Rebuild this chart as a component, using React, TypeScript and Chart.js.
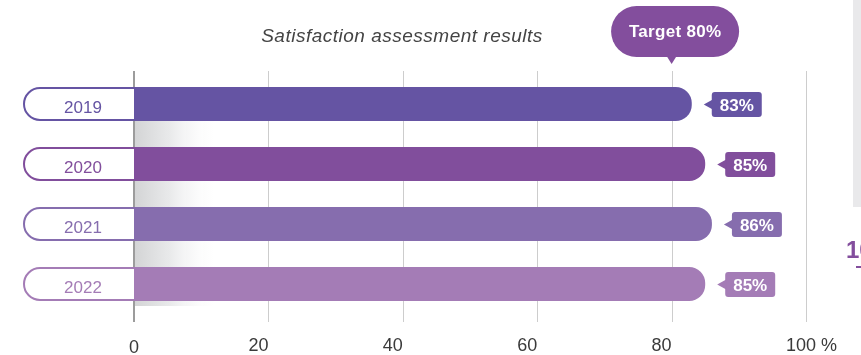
import React, { useEffect, useRef } from "react";
import { Chart, registerables } from "chart.js";

Chart.register(...registerables);

const YEARS = ["2019", "2020", "2021", "2022"];
const SATISFACTION = [83, 85, 86, 85];
const TARGET = 80;
const X_TICKS = [0, 20, 40, 60, 80, 100];
const X_TICK_LABELS = ["0", "20", "40", "60", "80", "100 %"];
const BAR_COLORS = ["#6554A3", "#814E9C", "#866DAE", "#A47CB6"];
const TARGET_COLOR = "#834E9D";
const TITLE = "Satisfaction assessment results";
const TARGET_TEXT = `Target ${TARGET}%`;
const FONT = '"Liberation Sans", Arial, Helvetica, sans-serif';

function roundRect(ctx: CanvasRenderingContext2D, x: number, y: number, w: number, h: number, r: number) {
  ctx.beginPath();
  ctx.moveTo(x + r, y);
  ctx.lineTo(x + w - r, y);
  ctx.arcTo(x + w, y, x + w, y + r, r);
  ctx.lineTo(x + w, y + h - r);
  ctx.arcTo(x + w, y + h, x + w - r, y + h, r);
  ctx.lineTo(x + r, y + h);
  ctx.arcTo(x, y + h, x, y + h - r, r);
  ctx.lineTo(x, y + r);
  ctx.arcTo(x, y, x + r, y, r);
  ctx.closePath();
}

const decorPlugin = {
  id: "decor",
  beforeDatasetsDraw(chart: any) {
    const ctx: CanvasRenderingContext2D = chart.ctx;
    const xs = chart.scales.x;
    const meta = chart.getDatasetMeta(0);
    const area = chart.chartArea;
    const top = area.top - 3;
    const bottom = area.bottom + 8;
    const x0 = xs.getPixelForValue(0);
    ctx.save();
    // grid lines
    ctx.strokeStyle = "#cdcdcd";
    ctx.lineWidth = 1;
    X_TICKS.forEach((v) => {
      if (v === 0) return;
      const x = Math.round(xs.getPixelForValue(v)) + 0.5;
      ctx.beginPath();
      ctx.moveTo(x, top);
      ctx.lineTo(x, bottom);
      ctx.stroke();
    });
    // soft shadows under bars
    meta.data.forEach((bar: any, i: number) => {
      const p = bar.getProps(["x", "y", "height"], true);
      const b = p.y + p.height / 2;
      const next = meta.data[i + 1];
      let e = b + 5;
      if (next) {
        const n = next.getProps(["y", "height"], true);
        e = n.y - n.height / 2;
      }
      const g = ctx.createLinearGradient(x0, 0, x0 + 86, 0);
      g.addColorStop(0, "#d3d4d5");
      g.addColorStop(0.4, "#e8e9ea");
      g.addColorStop(1, "rgba(255,255,255,0)");
      ctx.fillStyle = g;
      ctx.fillRect(x0, b, 86, e - b);
    });
    // axis line
    ctx.strokeStyle = "#9c9c9c";
    ctx.lineWidth = 2;
    ctx.beginPath();
    ctx.moveTo(x0, top);
    ctx.lineTo(x0, bottom);
    ctx.stroke();
    // year pills
    meta.data.forEach((bar: any, i: number) => {
      const p = bar.getProps(["y", "height"], true);
      const h = p.height;
      const left = 24;
      const t = p.y - h / 2 + 1;
      const bt = p.y + h / 2 - 1;
      const r = h / 2 - 1;
      ctx.beginPath();
      ctx.moveTo(x0, t);
      ctx.lineTo(left + r, t);
      ctx.arc(left + r, p.y, r, -Math.PI / 2, Math.PI / 2, true);
      ctx.lineTo(x0, bt);
      ctx.fillStyle = "#ffffff";
      ctx.fill();
      ctx.strokeStyle = BAR_COLORS[i];
      ctx.lineWidth = 2;
      ctx.stroke();
      ctx.fillStyle = BAR_COLORS[i];
      ctx.font = `17px ${FONT}`;
      ctx.textAlign = "center";
      ctx.textBaseline = "alphabetic";
      ctx.fillText(YEARS[i], (left + x0) / 2 + 4, p.y + 9);
    });
    ctx.restore();
  },
  afterDatasetsDraw(chart: any) {
    const ctx: CanvasRenderingContext2D = chart.ctx;
    const xs = chart.scales.x;
    const meta = chart.getDatasetMeta(0);
    ctx.save();
    // value callouts
    meta.data.forEach((bar: any, i: number) => {
      const p = bar.getProps(["x", "y"], true);
      const bx = p.x + 20;
      const cy = p.y + 0.5;
      ctx.fillStyle = BAR_COLORS[i];
      roundRect(ctx, bx, cy - 12.5, 50, 25, 3);
      ctx.fill();
      ctx.beginPath();
      ctx.moveTo(p.x + 12, cy);
      ctx.lineTo(bx + 1, cy - 5);
      ctx.lineTo(bx + 1, cy + 5);
      ctx.closePath();
      ctx.fill();
      ctx.fillStyle = "#ffffff";
      ctx.font = `bold 17px ${FONT}`;
      ctx.textAlign = "center";
      ctx.textBaseline = "alphabetic";
      ctx.fillText(`${SATISFACTION[i]}%`, bx + 25, p.y + 6.5);
    });
    // target bubble
    const tx = xs.getPixelForValue(TARGET);
    const cx = tx + 3.5;
    ctx.fillStyle = TARGET_COLOR;
    roundRect(ctx, cx - 64, 6, 128, 51, 25.5);
    ctx.fill();
    ctx.beginPath();
    ctx.moveTo(tx - 5, 56);
    ctx.lineTo(tx + 5, 56);
    ctx.lineTo(tx, 64);
    ctx.closePath();
    ctx.fill();
    ctx.fillStyle = "#ffffff";
    ctx.font = `bold 17px ${FONT}`;
    ctx.textAlign = "center";
    (ctx as any).letterSpacing = "0.3px";
    ctx.fillText(TARGET_TEXT, cx, 37);
    // title
    ctx.fillStyle = "#444444";
    ctx.font = `italic 19px ${FONT}`;
    ctx.textAlign = "center";
    (ctx as any).letterSpacing = "0.5px";
    ctx.fillText(TITLE, 402, 42);
    (ctx as any).letterSpacing = "0px";
    // x tick labels
    ctx.fillStyle = "#3a3a3a";
    ctx.font = `18px ${FONT}`;
    X_TICKS.forEach((v, i) => {
      const x = xs.getPixelForValue(v);
      if (v === 0) {
        ctx.textAlign = "center";
        ctx.fillText(X_TICK_LABELS[i], x, 353);
      } else {
        ctx.textAlign = "left";
        ctx.fillText(X_TICK_LABELS[i], x - 20, 351);
      }
    });
    // neighbouring panel fragments at right edge
    ctx.fillStyle = "#e9e9eb";
    ctx.fillRect(853, 0, 8, 207);
    ctx.fillStyle = TARGET_COLOR;
    ctx.font = `bold 24px ${FONT}`;
    ctx.textAlign = "left";
    ctx.fillText("10", 846, 258);
    ctx.fillRect(856, 266, 5, 2);
    ctx.restore();
  },
};

export default function App() {
  const ref = useRef<HTMLCanvasElement>(null);
  useEffect(() => {
    if (!ref.current) return;
    const chart = new Chart(ref.current, {
      type: "bar",
      data: {
        labels: YEARS,
        datasets: [
          {
            data: SATISFACTION,
            backgroundColor: BAR_COLORS,
            borderRadius: 16,
            borderSkipped: "start",
            barPercentage: 0.567,
            categoryPercentage: 1,
          },
        ],
      },
      options: {
        indexAxis: "y",
        animation: false,
        responsive: false,
        devicePixelRatio: 1,
        layout: { padding: { left: 134, right: 55, top: 74, bottom: 41 } },
        scales: {
          x: { min: 0, max: 100, display: false },
          y: { display: false },
        },
        plugins: {
          legend: { display: false },
          title: { display: false },
          tooltip: { enabled: false },
        },
      },
      plugins: [decorPlugin],
    } as any);
    return () => chart.destroy();
  }, []);
  return (
    <div style={{ position: "fixed", left: 0, top: 0, width: 861, height: 355, background: "#fff" }}>
      <canvas ref={ref} width={861} height={355} style={{ width: 861, height: 355, display: "block" }} />
    </div>
  );
}
